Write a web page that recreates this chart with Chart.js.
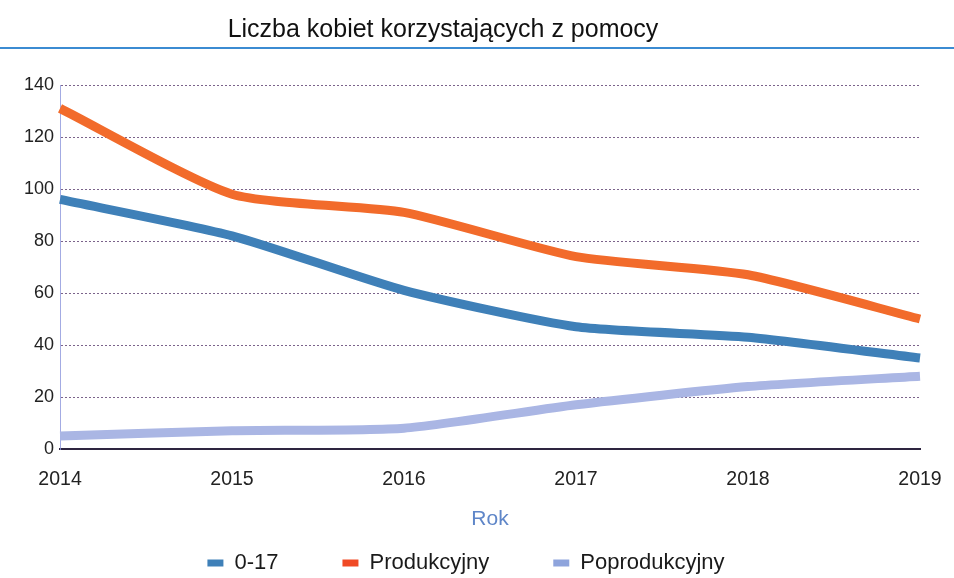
<!DOCTYPE html>
<html><head><meta charset="utf-8">
<script src="https://cdn.jsdelivr.net/npm/chart.js@4"></script>
<style>html,body{margin:0;padding:0;background:#fff}#wrap{width:954px;height:578px}</style>
</head><body><div id="wrap"><canvas id="c" width="954" height="578"></canvas></div>
<script>
const years = ['2014','2015','2016','2017','2018','2019'];
const youth = [96, 82, 61, 47, 43, 35];
const working = [131, 98, 91, 74, 67, 50];
const retired = [5, 7, 8, 17, 24, 28];
const yTicks = [0, 20, 40, 60, 80, 100, 120, 140];

const FONT = "'Liberation Sans', Arial, Helvetica, sans-serif";

const sepLine = {
  id: 'sepLine',
  afterLayout(chart) {
    const t = chart.titleBlock;
    if (t) { t.left -= 26; t.right -= 26; }
    const l = chart.legend;
    if (l) { l.left -= 3; l.right -= 3; }
  },
  beforeDraw(chart) {
    const ctx = chart.ctx;
    ctx.save();
    ctx.strokeStyle = '#3b8bd2';
    ctx.lineWidth = 2;
    ctx.beginPath();
    ctx.moveTo(0, 48);
    ctx.lineTo(chart.width, 48);
    ctx.stroke();
    ctx.restore();
  }
};

new Chart(document.getElementById('c'), {
  type: 'line',
  data: {
    labels: years,
    datasets: [
      { label: '0-17', data: youth, borderColor: '#3f80b8', backgroundColor: '#3f80b8' },
      { label: 'Produkcyjny', data: working, borderColor: '#f26b2b', backgroundColor: '#f04a25' },
      { label: 'Poprodukcyjny', data: retired, borderColor: '#aab6e4', backgroundColor: '#8ea4dc' }
    ]
  },
  options: {
    responsive: false,
    animation: false,
    elements: { line: { tension: 0.2, borderWidth: 9, borderCapStyle: 'butt', borderJoinStyle: 'round' }, point: { radius: 0 } },
    layout: { padding: { left: 18, right: 34, top: 0, bottom: -6 } },
    plugins: {
      title: {
        display: true,
        text: 'Liczba kobiet korzystających z pomocy',
        color: '#111',
        font: { family: FONT, size: 25, weight: 'normal' },
        padding: { top: 15, bottom: 40 }
      },
      legend: {
        position: 'bottom',
        labels: {
          color: '#1a1a1a',
          font: { family: FONT, size: 22 },
          boxWidth: 16, boxHeight: 7,
          padding: 64,
          generateLabels(chart) {
            const items = Chart.defaults.plugins.legend.labels.generateLabels(chart);
            items.forEach(it => { it.lineWidth = 0; it.strokeStyle = 'rgba(0,0,0,0)'; });
            return items;
          }
        }
      },
      tooltip: { enabled: false }
    },
    scales: {
      x: {
        offset: false,
        grid: { display: false, drawTicks: true, tickLength: 16 },
        border: { display: true, color: '#2e2540', width: 2 },
        ticks: { color: '#222', font: { family: FONT, size: 19.5 }, padding: 3, maxRotation: 0 },
        title: { display: true, text: 'Rok', color: '#5f86c8', font: { family: FONT, size: 21 }, padding: { top: 12, bottom: -43.6 } }
      },
      y: {
        min: 0, max: 140,
        afterBuildTicks(axis) { axis.ticks = yTicks.map(v => ({ value: v })); },
        grid: { color: 'rgba(90,60,110,0.8)', lineWidth: 1, drawTicks: false },
        border: { display: true, color: 'rgba(140,150,220,0.8)', width: 1, dash: [2, 2] },
        ticks: { color: '#222', font: { family: FONT, size: 18 }, padding: 6 }
      }
    }
  },
  plugins: [sepLine]
});
</script></body></html>
